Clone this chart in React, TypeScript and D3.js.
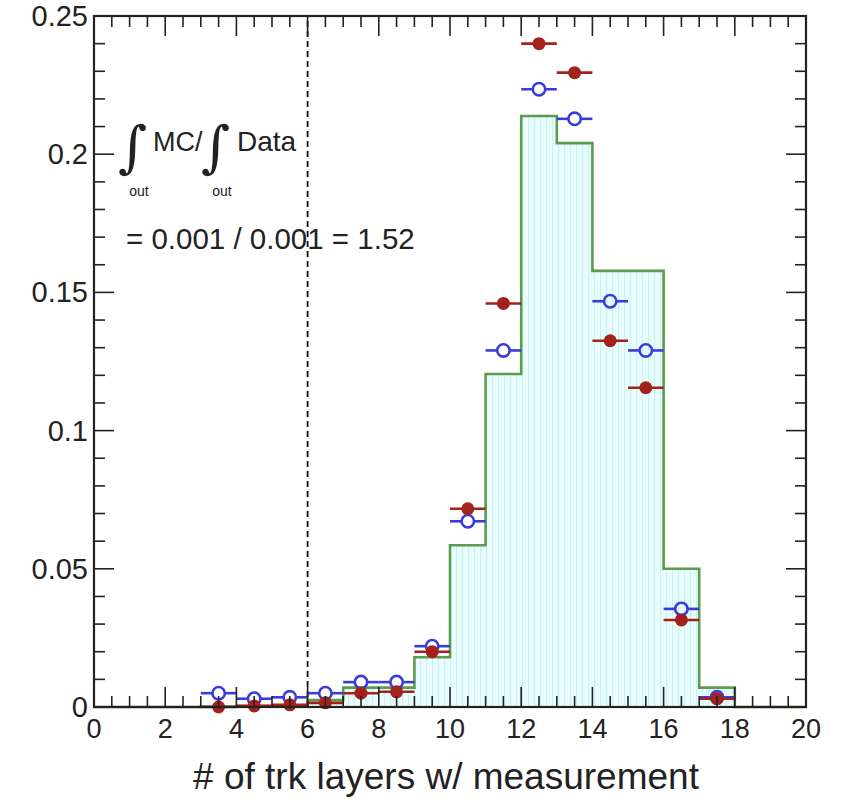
import React from "react";
import * as d3 from "d3";

// bin edges of the MC histogram (number of tracker layers)
const binLow = [0, 1, 2, 3, 4, 5, 6, 7, 8, 9, 10, 11, 12, 13, 14, 15, 16, 17, 18, 19];
const mcHist = [
  0, 0, 0, 0.0002, 0.0003, 0.0003, 0.0025, 0.007, 0.007, 0.018, 0.0585, 0.1205, 0.2138,
  0.204, 0.1578, 0.1578, 0.05, 0.007, 0, 0,
];

// points at bin centres
const layers = [3.5, 4.5, 5.5, 6.5, 7.5, 8.5, 9.5, 10.5, 11.5, 12.5, 13.5, 14.5, 15.5, 16.5, 17.5];
const redVals = [
  0.0, 0.0004, 0.0008, 0.0015, 0.005, 0.0055, 0.02, 0.0717, 0.146, 0.24, 0.2295, 0.1325,
  0.1155, 0.0315, 0.003,
];
const blueVals = [
  0.005, 0.003, 0.0035, 0.005, 0.009, 0.009, 0.022, 0.0672, 0.129, 0.2235, 0.2128, 0.1468,
  0.129, 0.0355, 0.0035,
];

const xTicks = [0, 2, 4, 6, 8, 10, 12, 14, 16, 18, 20];
const yTicks = [0, 0.05, 0.1, 0.15, 0.2, 0.25];
const yTickLabels = ["0", "0.05", "0.1", "0.15", "0.2", "0.25"];
const cutAt = 6;

const W = 848;
const H = 802;
const FONT = "'Liberation Sans', Arial, Helvetica, sans-serif";
const RED = "#a3221b";
const BLUE = "#3b3bdc";
const GREEN = "#5e9b4e";
const INK = "#222";

export default function App() {
  const x = d3.scaleLinear().domain([0, 20]).range([94, 806]);
  const y = d3.scaleLinear().domain([0, 0.25]).range([707, 16]);
  const [x0, x1] = x.range();
  const [y0, y1] = y.range();

  const steps = binLow.map((b, i) => [b, mcHist[i]] as [number, number]);
  steps.push([20, mcHist[mcHist.length - 1]]);
  const line = d3
    .line<[number, number]>()
    .x((d) => x(d[0]))
    .y((d) => y(d[1]))
    .curve(d3.curveStepAfter);
  const area = d3
    .area<[number, number]>()
    .x((d) => x(d[0]))
    .y0(y(0))
    .y1((d) => y(d[1]))
    .curve(d3.curveStepAfter);

  const xMinor = d3.range(0, 20.01, 0.5);
  const yMinor = d3.range(0, 0.2501, 0.01);
  const majLen = 20;
  const minLen = 11;
  const isMajX = (v: number) => Math.abs(v / 2 - Math.round(v / 2)) < 1e-6;
  const isMajY = (v: number) => Math.abs(v / 0.05 - Math.round(v / 0.05)) < 1e-6;

  const r = 6.5;
  const halfBin = x(0.5) - x(0);

  return (
    <svg
      width={W}
      height={H}
      style={{ position: "absolute", left: 0, top: 0, background: "#fff" }}
      fontFamily={FONT}
    >
      <defs>
        <pattern id="hatch" width={6} height={10} patternUnits="userSpaceOnUse">
          <rect width={6} height={10} fill="#e8fefe" />
          <rect x={0} width={1.2} height={10} fill="#d0f0f0" />
        </pattern>
      </defs>

      {/* MC histogram */}
      <path d={area(steps) || ""} fill="url(#hatch)" />
      <path d={line(steps) || ""} fill="none" stroke={GREEN} strokeWidth={2.6} />

      {/* cut line */}
      <line
        x1={x(cutAt)}
        x2={x(cutAt)}
        y1={y0}
        y2={y1}
        stroke="#111"
        strokeWidth={1.8}
        strokeDasharray="6,4"
      />

      {/* open blue markers */}
      {layers.map((l, i) => {
        const cx = x(l);
        const cy = y(blueVals[i]);
        return (
          <g key={"b" + i} stroke={BLUE} strokeWidth={2.6} fill="none">
            <line x1={cx - halfBin} x2={cx - r} y1={cy} y2={cy} />
            <line x1={cx + r} x2={cx + halfBin} y1={cy} y2={cy} />
            <circle cx={cx} cy={cy} r={r - 0.3} />
          </g>
        );
      })}

      {/* filled red markers */}
      {layers.map((l, i) => {
        const cx = x(l);
        const cy = y(redVals[i]);
        return (
          <g key={"r" + i}>
            <line x1={cx - halfBin} x2={cx + halfBin} y1={cy} y2={cy} stroke={RED} strokeWidth={2.6} />
            <circle cx={cx} cy={cy} r={r} fill={RED} />
          </g>
        );
      })}

      {/* ticks on all four sides */}
      <g stroke={INK} strokeWidth={1.6}>
        {xMinor.map((v, i) => {
          const len = isMajX(v) ? majLen : minLen;
          return (
            <g key={"xt" + i}>
              <line x1={x(v)} x2={x(v)} y1={y0} y2={y0 - len} />
              <line x1={x(v)} x2={x(v)} y1={y1} y2={y1 + len} />
            </g>
          );
        })}
        {yMinor.map((v, i) => {
          const len = isMajY(v) ? majLen : minLen;
          return (
            <g key={"yt" + i}>
              <line x1={x0} x2={x0 + len} y1={y(v)} y2={y(v)} />
              <line x1={x1} x2={x1 - len} y1={y(v)} y2={y(v)} />
            </g>
          );
        })}
      </g>

      {/* frame */}
      <rect
        x={x0}
        y={y1}
        width={x1 - x0}
        height={y0 - y1}
        fill="none"
        stroke={INK}
        strokeWidth={2.2}
      />

      {/* tick labels */}
      <g fill={INK}>
        {xTicks.map((v) => (
          <text key={"xl" + v} x={x(v)} y={738} textAnchor="middle" fontSize={27}>
            {v}
          </text>
        ))}
        {yTicks.map((v, i) => (
          <text key={"yl" + v} x={88} y={y(v) + 10} textAnchor="end" fontSize={29}>
            {yTickLabels[i]}
          </text>
        ))}
      </g>

      {/* axis title */}
      <text x={446} y={789} textAnchor="middle" fontSize={37} fill={INK}>
        # of trk layers w/ measurement
      </text>

      {/* integral annotation */}
      <g fill={INK}>
        <text x={118} y={166} fontSize={56} fontFamily="'DejaVu Serif', serif">
          ∫
        </text>
        <text x={139} y={196} fontSize={14} textAnchor="middle">
          out
        </text>
        <text x={153} y={151} fontSize={27}>
          MC/
        </text>
        <text x={201} y={166} fontSize={56} fontFamily="'DejaVu Serif', serif">
          ∫
        </text>
        <text x={222} y={196} fontSize={14} textAnchor="middle">
          out
        </text>
        <text x={237} y={151} fontSize={28}>
          Data
        </text>
        <text x={126} y={249} fontSize={29.5}>
          = 0.001 / 0.001 = 1.52
        </text>
      </g>
    </svg>
  );
}
